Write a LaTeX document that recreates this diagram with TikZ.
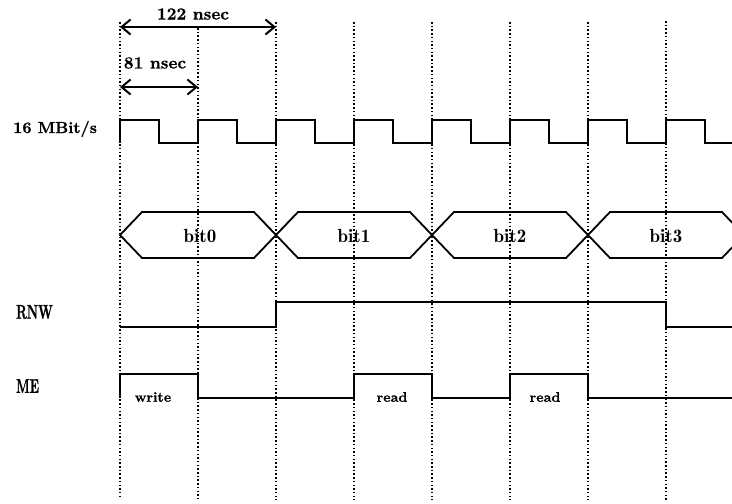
\documentclass[tikz,border=0pt]{standalone}
\usepackage{fontspec}
\newfontfamily\heavyfont{lmroman10-bold.otf}[FakeBold=0.8]
\newfontfamily\condfont{lmroman10-bold.otf}[FakeStretch=0.62,FakeBold=0.8]
\newfontfamily\demifont{lmromandemi10-regular.otf}
\usetikzlibrary{arrows.meta}
\begin{document}
\begin{tikzpicture}[x=1pt,y=-1pt,
  sig/.style={line width=1.8pt,line join=miter},
  grid/.style={line width=1.6pt,dash pattern=on 1.5pt off 2.2pt},
  dim/.style={line width=2pt,{Straight Barb[length=9pt,width=15pt,line width=2pt]}-{Straight Barb[length=9pt,width=15pt,line width=2pt]}},
  lab/.style={font=\heavyfont\fontsize{17}{19}\selectfont,inner sep=0pt},
  cond/.style={font=\condfont\fontsize{20}{22}\selectfont,inner sep=0pt},
  buslab/.style={font=\demifont\fontsize{19}{21}\selectfont,inner sep=0pt},
  small/.style={font=\heavyfont\fontsize{14}{16}\selectfont,inner sep=0pt}]
\useasboundingbox (0,0) rectangle (732,504);
% vertical dotted grid
\foreach \k/\t/\b in {0/22/497,1/28/500,2/22/500,3/22/500,4/22/500,5/22/500,6/22/500,7/21/500}{
  \draw[grid] (120+78*\k,\t) -- (120+78*\k,\b);
}
% dimension arrows
\coordinate (a1) at (120,27);
\coordinate (a2) at (276,27);
\coordinate (b1) at (120,87);
\coordinate (b2) at (198,87);
\draw[dim] (a1) -- (a2);
\draw[dim] (b1) -- (b2);
\node[lab] (t122) at (193,14) {122 nsec};
\node[lab] (t81) at (155,63) {81 nsec};
% labels
\node[font=\heavyfont\fontsize{16}{18}\selectfont,inner sep=0pt,anchor=west] (clk) at (13,129) {16 MBit/s};
\node[cond,anchor=west] (rnw) at (16,312) {RNW};
\node[cond,anchor=west] (me) at (16,386) {ME};
% clock
\draw[sig] (120,143) \foreach \k in {0,...,7}{ -- (120+78*\k,143) -- (120+78*\k,120) -- (159+78*\k,120) -- (159+78*\k,143)} -- (732,143);
% bus
\begin{scope}
\clip (0,0) rectangle (732,504);
\foreach \c in {120,276,432,588}{
  \draw[sig] (\c,235) -- (\c+22,212) -- (\c+156-22,212) -- (\c+156,235) -- (\c+156-22,258) -- (\c+22,258) -- cycle;
}
\end{scope}
\node[buslab] (bit0) at (200,236) {bit0};
\node[buslab] (bit1) at (354,236) {bit1};
\node[buslab] (bit2) at (510,236) {bit2};
\node[buslab] (bit3) at (666,236) {bit3};
% RNW
\draw[sig] (120,327) -- (276,327) -- (276,302) -- (666,302) -- (666,327) -- (732,327);
% ME
\draw[sig] (120,398) -- (120,374) -- (198,374) -- (198,398) -- (354,398) -- (354,374) -- (432,374) -- (432,398) -- (510,398) -- (510,374) -- (588,374) -- (588,398) -- (732,398);
\node[small] (w) at (153,397) {write};
\node[small] (r1) at (392,397) {read};
\node[small] (r2) at (545,397) {read};
\end{tikzpicture}
\end{document}
